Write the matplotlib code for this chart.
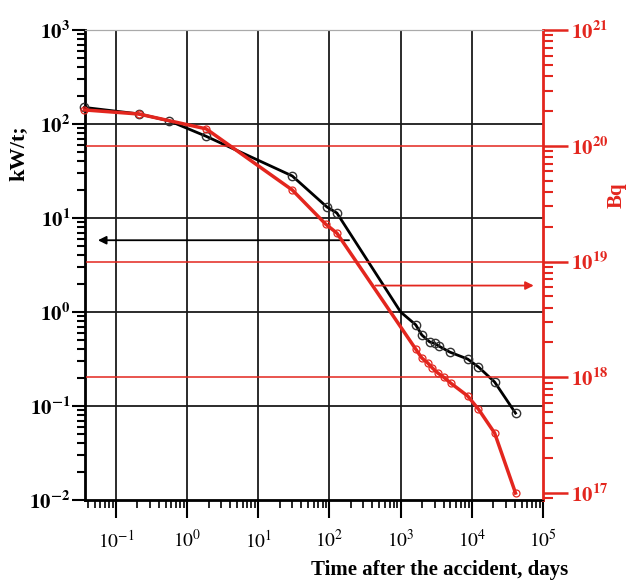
import numpy as np
import matplotlib
matplotlib.use("Agg")
import matplotlib.pyplot as plt
from matplotlib.ticker import LogLocator, NullFormatter, FuncFormatter, FixedLocator

plt.rcParams["font.family"] = ["Liberation Serif", "DejaVu Serif"]
plt.rcParams["mathtext.fontset"] = "stix"

RED = "#e3261e"

# heat output, kW/t (left axis)
days_kw = [0.036, 0.21, 0.56, 1.85, 30, 92, 127, 1000, 1630, 1980, 2560, 3000,
           3420, 4890, 8720, 12400, 20900, 41100]
kw_per_t = [150, 128, 108, 74, 28, 13.1, 11.3, 1.0, 0.73, 0.57, 0.48, 0.465,
            0.435, 0.375, 0.316, 0.26, 0.18, 0.084]
kw_marked = [0, 1, 2, 3, 4, 5, 6, 8, 9, 10, 11, 12, 13, 14, 15, 16, 17]

# activity, Bq (right axis)
days_bq = [0.036, 0.21, 1.85, 30, 88, 127, 1630, 1980, 2400, 2800, 3320, 4030,
           5060, 8720, 12400, 20900, 41100]
activity_bq = [2.04e20, 1.88e20, 1.40e20, 4.15e19, 2.11e19, 1.76e19, 1.75e18,
               1.47e18, 1.33e18, 1.2e18, 1.09e18, 1.0e18, 8.9e17, 6.9e17,
               5.3e17, 3.3e17, 1.0e17]

x_decades = [1e-1, 1e0, 1e1, 1e2, 1e3, 1e4, 1e5]
left_decades = [1e-2, 1e-1, 1e0, 1e1, 1e2, 1e3]
right_decades = [1e17, 1e18, 1e19, 1e20, 1e21]


def pow_label(v, bold=False):
    e = int(round(np.log10(v)))
    if bold:
        return r"$\mathbf{10^{%d}}$" % e
    return r"$10^{%d}$" % e


fig = plt.figure(figsize=(6.26, 5.88), dpi=100)
ax = fig.add_axes([85 / 626, 88 / 588, 458 / 626, 470 / 588])
ax2 = ax.twinx()

ax.set_xscale("log")
ax.set_yscale("log")
ax2.set_yscale("log")
ax.set_xlim(0.0367, 1e5)
ax.set_ylim(1e-2, 1e3)
ax2.set_ylim(10 ** 16.94, 1e21)

# grid
for xv in x_decades[:-1]:
    ax.axvline(xv, color="#1a1a1a", lw=1.3, zorder=1)
for yv in left_decades[1:-1]:
    ax.axhline(yv, color="#1a1a1a", lw=1.3, zorder=1)
for yv in right_decades[1:-1]:
    ax2.axhline(yv, color=RED, lw=1.1, zorder=1)

# curves
ax.plot(days_kw, kw_per_t, color="black", lw=2, marker="o", ms=6, mfc="none",
        mec="#333333", mew=1, markevery=kw_marked, clip_on=False, zorder=3)
ax2.plot(days_bq, activity_bq, color=RED, lw=2.5, marker="o", ms=5, mfc="none",
         mec=RED, mew=0.9, clip_on=False, zorder=3)

# arrows pointing to the axis each curve belongs to
ax.annotate("", xy=(0.051, 5.8), xytext=(206, 5.8),
            arrowprops=dict(arrowstyle="-|>", color="black", lw=1.3,
                            mutation_scale=12))
ax2.annotate("", xy=(8.1e4, 6.2e18), xytext=(405, 6.2e18),
             arrowprops=dict(arrowstyle="-|>", color=RED, lw=1.3,
                             mutation_scale=12))

# ticks
minor = np.arange(2, 10)
ax.xaxis.set_major_locator(FixedLocator(x_decades))
ax.xaxis.set_minor_locator(LogLocator(base=10, subs=minor, numticks=100))
ax.yaxis.set_major_locator(FixedLocator(left_decades))
ax.yaxis.set_minor_locator(LogLocator(base=10, subs=minor, numticks=100))
ax2.yaxis.set_major_locator(FixedLocator(right_decades))
ax2.yaxis.set_minor_locator(LogLocator(base=10, subs=minor, numticks=100))
ax.xaxis.set_minor_formatter(NullFormatter())
ax.yaxis.set_minor_formatter(NullFormatter())
ax2.yaxis.set_minor_formatter(NullFormatter())
ax.xaxis.set_major_formatter(FuncFormatter(lambda v, p: pow_label(v)))
ax.yaxis.set_major_formatter(FuncFormatter(lambda v, p: pow_label(v, True)))
ax2.yaxis.set_major_formatter(FuncFormatter(lambda v, p: pow_label(v, True)))

ax.tick_params(axis="x", which="major", direction="out", length=13, width=1.5,
               labelsize=14, pad=8)
ax.tick_params(axis="x", which="minor", direction="out", length=6, width=1.2)
ax.tick_params(axis="y", which="major", direction="out", length=9.5, width=1.5,
               labelsize=15, pad=1)
ax.tick_params(axis="y", which="minor", direction="out", length=6, width=1.5)
ax2.tick_params(axis="y", which="major", direction="out", length=18, width=1.8,
                color=RED, labelcolor=RED, labelsize=15, pad=2)
ax2.tick_params(axis="y", which="minor", direction="out", length=7, width=1.5,
                color=RED)

for sp in ["left", "bottom"]:
    ax.spines[sp].set_linewidth(2)
ax.spines["top"].set_color("#aaaaaa")
ax2.spines["top"].set_color("#aaaaaa")
ax2.spines["right"].set_color(RED)
ax2.spines["right"].set_linewidth(2)
ax.spines["right"].set_visible(False)

# axis titles
fig.text(19 / 626, 1 - 153 / 588, "kW/t;", rotation=90, ha="center",
         va="center", fontsize=16, fontweight="bold")
fig.text(617 / 626, 1 - 195 / 588, "Bq", rotation=90, ha="center",
         va="center", fontsize=15, fontweight="bold", color=RED)
fig.text(440 / 626, 1 - 570 / 588, "Time after the accident, days",
         ha="center", va="center", fontsize=15, fontweight="bold")

fig.savefig("out.png", dpi=100)
